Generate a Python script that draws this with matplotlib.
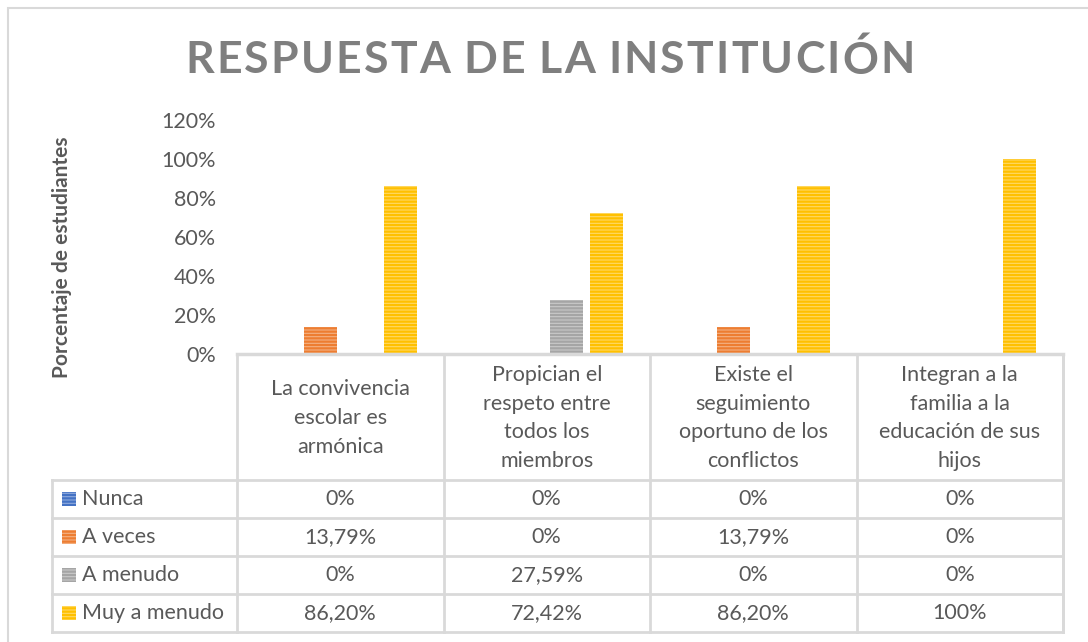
import numpy as np
import matplotlib
matplotlib.use("Agg")
import matplotlib.pyplot as plt
from matplotlib.patches import Rectangle

plt.rcParams['font.family'] = ['Lato', 'DejaVu Sans']
plt.rcParams['hatch.linewidth'] = 1.6

# data
categories = ["La convivencia\nescolar es\narmónica",
              "Propician el\nrespeto entre\ntodos los\nmiembros",
              "Existe el\nseguimiento\noportuno de los\nconflictos",
              "Integran a la\nfamilia a la\neducación de sus\nhijos"]
series = ["Nunca", "A veces", "A menudo", "Muy a menudo"]
nunca = [0, 0, 0, 0]
a_veces = [13.79, 0, 13.79, 0]
a_menudo = [0, 27.59, 0, 0]
muy_a_menudo = [86.20, 72.42, 86.20, 100]
values = [nunca, a_veces, a_menudo, muy_a_menudo]
yticks = [0, 20, 40, 60, 80, 100, 120]

face = ['#8FAADC', '#F4B183', '#C9C9C9', '#FFD966']
hatchc = ['#4472C4', '#ED7D31', '#A5A5A5', '#FFC000']
txt = '#595959'
grid = '#D9D9D9'
fs = 15.5

W, H = 1088, 642
fig = plt.figure(figsize=(W / 100, H / 100), dpi=100)

def fx(px):
    return px / W

def fy(py):
    return 1 - py / H

# outer chart border
fig.add_artist(Rectangle((fx(8), -0.1), 2, fy(8) + 0.1, transform=fig.transFigure,
                         fill=False, ec=grid, lw=1.5))

# bars
ax = fig.add_axes([fx(237), fy(354), fx(1063) - fx(237), fy(120) - fy(354)])
x = np.arange(len(categories))
step, width = 0.194, 0.16
for i, s in enumerate(series):
    v = np.array(values[i]) / 100
    ax.bar(x + (i - 1.5) * step, v, width, color=face[i], edgecolor=hatchc[i],
           hatch='-----', linewidth=0)
ax.set_xlim(-0.5, len(categories) - 0.5)
ax.set_ylim(0, 1.2)
ax.set_yticks(np.array(yticks) / 100)
ax.set_yticklabels([f"{t}%" for t in yticks], fontsize=fs, color=txt)
ax.tick_params(axis='y', length=0, pad=15)
ax.set_xticks([])
for sp in ['top', 'right', 'left']:
    ax.spines[sp].set_visible(False)
ax.spines['bottom'].set_color(grid)
ax.spines['bottom'].set_linewidth(2.5)
ax.patch.set_alpha(0)

fig.text(fx(62), fy(257), "Porcentaje de estudiantes", rotation=90, ha='center',
         va='center', fontsize=15, fontweight='bold', color=txt)

# title with letter spacing
title = "RESPUESTA DE LA INSTITUCIÓN"
renderer = fig.canvas.get_renderer()
pieces = []
xpos = 0
track = 2.2
for ch in title:
    t = fig.text(0, fy(60), ch, fontsize=32, fontweight='bold', color='#7F7F7F',
                 va='center', ha='left')
    w = t.get_window_extent(renderer).width if ch != ' ' else 9
    pieces.append((t, xpos))
    xpos += w + track
total = xpos - track
x0 = 550 - total / 2
for t, off in pieces:
    t.set_x(fx(x0 + off))

# data table
tab = fig.add_axes([fx(52), fy(632), fx(1063) - fx(52), fy(354) - fy(632)])
tab.set_xlim(52, 1063)
tab.set_ylim(632, 354)
tab.axis('off')
col_edges = np.linspace(237, 1063, len(categories) + 1)
row_edges = [354, 480, 518, 556, 594, 632]
lw = 2
for cx in col_edges:
    tab.plot([cx, cx], [354, 632], color=grid, lw=lw, clip_on=False)
tab.plot([52, 52], [480, 632], color=grid, lw=lw, clip_on=False)
tab.plot([1063, 1063], [354, 632], color=grid, lw=lw, clip_on=False)
for ry in row_edges[1:]:
    tab.plot([52, 1063], [ry, ry], color=grid, lw=lw, clip_on=False)

def fmt(v):
    if float(v).is_integer():
        return f"{int(v)}%"
    return f"{v:.2f}".replace('.', ',') + '%'

for j, c in enumerate(categories):
    cx = (col_edges[j] + col_edges[j + 1]) / 2
    tab.text(cx, (row_edges[0] + row_edges[1]) / 2 + 1, c, ha='center', va='center',
             fontsize=fs, color=txt, linespacing=1.55)
for i, s in enumerate(series):
    cy = (row_edges[i + 1] + row_edges[i + 2]) / 2
    tab.add_patch(Rectangle((62, cy - 7), 14, 14, facecolor=face[i], edgecolor=hatchc[i],
                            hatch='-----', linewidth=0))
    tab.text(82, cy, s, ha='left', va='center', fontsize=fs, color=txt)
    for j in range(len(categories)):
        cx = (col_edges[j] + col_edges[j + 1]) / 2
        tab.text(cx, cy, fmt(values[i][j]), ha='center', va='center', fontsize=fs,
                 color=txt)

fig.savefig("out.png", dpi=100)
